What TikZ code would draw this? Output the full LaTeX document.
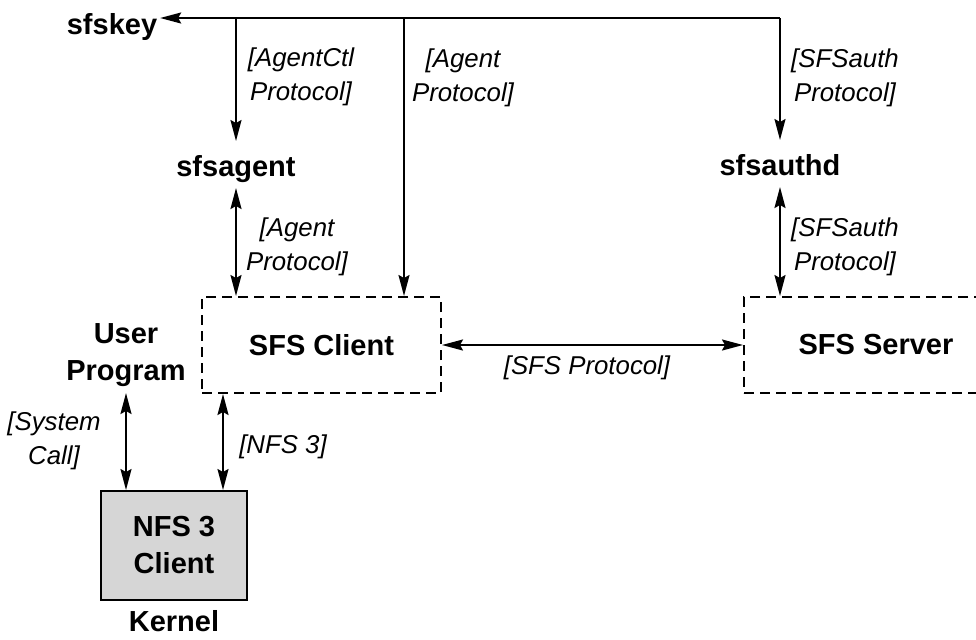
\documentclass[tikz,border=0pt]{standalone}
\usepackage{fontspec}
\setmainfont{Liberation Sans}
\usepackage{xcolor}
\definecolor{kernelgray}{RGB}{214,214,214}
\usepackage{tikz}
\usetikzlibrary{arrows.meta,calc}

\begin{document}
\begin{tikzpicture}[x=0.5pt,y=-0.5pt,>={Stealth[length=10.5pt,width=5.5pt,inset=1.5pt]},line width=1pt,
  prog/.style={font=\fontsize{14.5}{18.5}\selectfont\bfseries,align=center},
  daemon/.style={prog,text height=15pt,text depth=3.5pt,inner ysep=2pt,inner xsep=1pt},
  proto/.style={font=\fontsize{12.9}{17}\selectfont\itshape,align=center,inner sep=0pt},
  dashbox/.style={prog,draw,dash pattern=on 5pt off 3pt,minimum height=48pt},
  kernelbox/.style={prog,draw,fill=kernelgray,minimum width=73pt,minimum height=54.5pt}]
\clip (0,0) rectangle (976,639);
% programs
\node[daemon,anchor=base] (sfskey) at (112,34) {sfskey};
\node[daemon,anchor=base] (sfsagent) at (236,176) {sfsagent};
\node[daemon,anchor=base] (sfsauthd) at (780,175) {sfsauthd};
\node[dashbox,minimum width=119.5pt] (client) at (321.5,345) {SFS Client};
\node[dashbox,minimum width=132pt] (server) at (876,345) {SFS Server};
\node[prog,anchor=south,inner sep=2.5pt] (user) at (126,393) {User\\Program};
\node[kernelbox] (nfs) at (174,545.5) {NFS 3\\Client};
\node[prog] (kernel) at (174,621) {Kernel};
% junctions on the top line
\coordinate (ctltop) at (236,18); \coordinate (agtop) at (404,18); \coordinate (authtop) at (780,18);
\coordinate (nfsx) at (223,0);
% connectors
\draw[->] (authtop) -- (authtop -| sfskey.east);
\draw[->] (ctltop) -- (sfsagent.north);
\draw[->] (agtop) -- (client.north -| agtop);
\draw[->] (authtop) -- (sfsauthd.north);
\draw[<->] (sfsagent.south) -- (client.north -| sfsagent.south);
\draw[<->] (sfsauthd.south) -- (server.north -| sfsauthd.south);
\draw[<->] (client.east) -- (server.west);
\draw[<->] (user.south) -- (nfs.north -| user.south);
\draw[<->] (client.south -| nfsx) -- (nfs.north -| nfsx);
% protocol labels
\node[proto] (ctllbl) at (301,77) {[AgentCtl\\Protocol]};
\node[proto] (aglbl) at (463,78) {[Agent\\Protocol]};
\node[proto] (authlbl) at (845,78) {[SFSauth\\Protocol]};
\node[proto] (aglbl2) at (297,247) {[Agent\\Protocol]};
\node[proto] (authlbl2) at (845,247) {[SFSauth\\Protocol]};
\node[proto] (sfslbl) at (587,368) {[SFS Protocol]};
\node[proto] (syslbl) at (54,441) {[System\\Call]};
\node[proto] (nfslbl) at (283,447) {[NFS 3]};
\end{tikzpicture}
\end{document}
